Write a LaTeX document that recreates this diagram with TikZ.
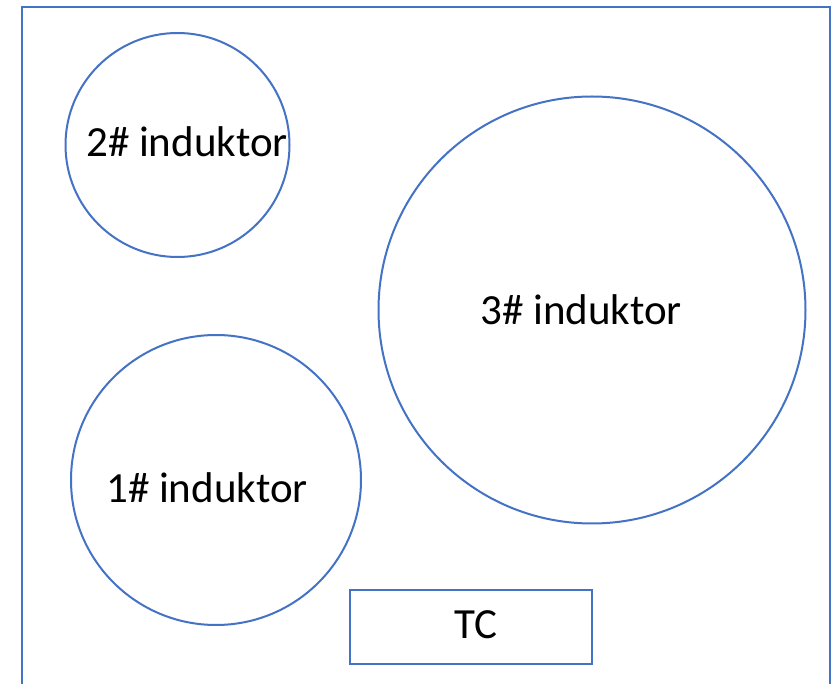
\documentclass[tikz,border=0pt]{standalone}
\usepackage{fontspec}
\setmainfont{Carlito}
\definecolor{lineblue}{RGB}{68,114,196}
\begin{document}
\begin{tikzpicture}[x=1pt,y=-1pt,
  shapeline/.style={draw=lineblue,line width=2pt},
  coil/.style={shapeline,circle,inner sep=0pt},
  lbl/.style={anchor=base,font=\fontsize{43}{50}\selectfont,inner sep=0pt}]
\useasboundingbox (0,0) rectangle (839,684);
\fill[white] (0,0) rectangle (839,684);
\node[shapeline,rectangle,anchor=north west,minimum width=808pt,minimum height=700pt,inner sep=0pt] (frame) at (21,6) {};
\node[coil,minimum size=224pt] (c2) at (177.5,145) {};
\node[coil,minimum size=427pt] (c3) at (592,310) {};
\node[coil,minimum size=290pt] (c1) at (216,480) {};
\node[shapeline,rectangle,anchor=north west,minimum width=242pt,minimum height=74pt,inner sep=0pt] (tc) at (349,589) {};
\node[lbl] (t2) at (187,157) {2\# induktor};
\node[lbl] (t3) at (581,325) {3\# induktor};
\node[lbl] (t1) at (207,503) {1\# induktor};
\node[lbl] (ttc) at (476,638) {TC};
\end{tikzpicture}
\end{document}
